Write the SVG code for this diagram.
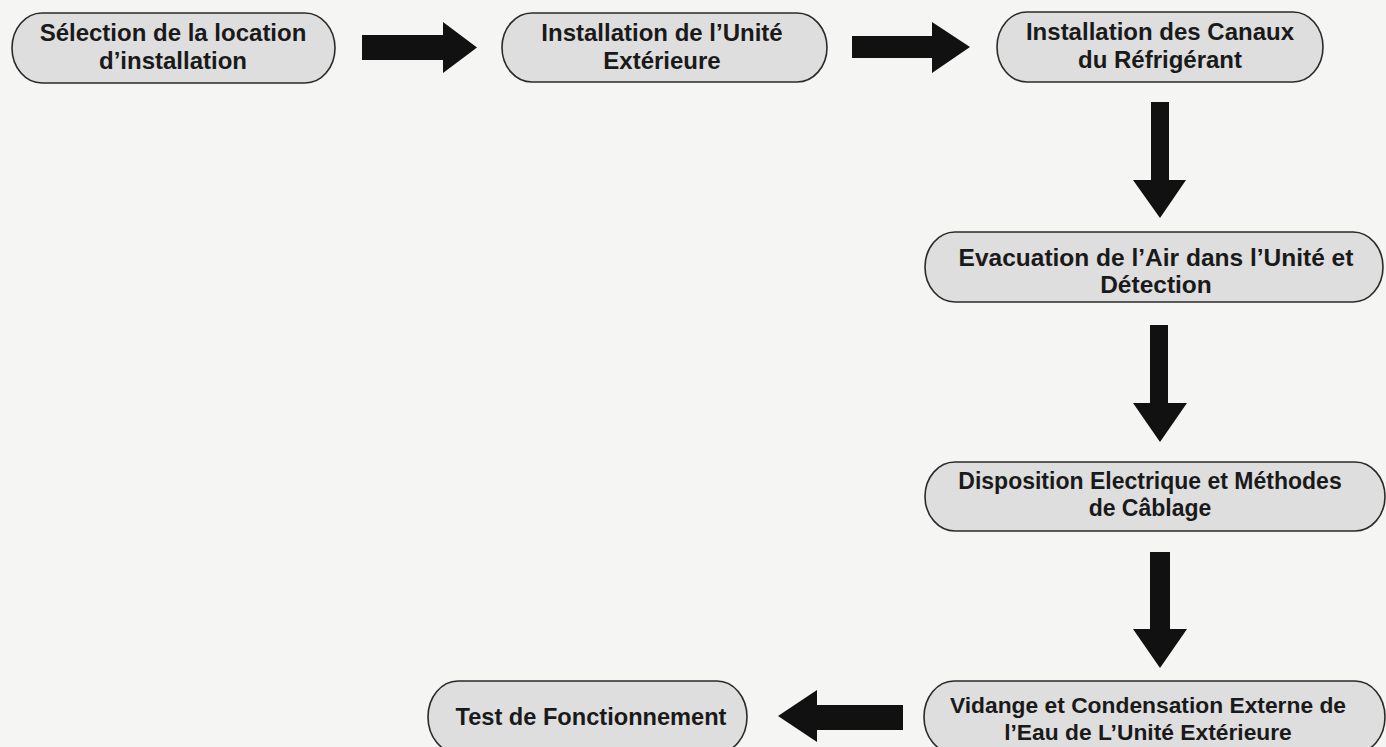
<svg xmlns="http://www.w3.org/2000/svg" width="1386" height="747" viewBox="0 0 1386 747">
<style>
.n{fill:#dedede;stroke:#2a2a2a;stroke-width:1.6}
.t{font-family:"Liberation Sans",Arial,sans-serif;font-weight:bold;font-size:23px;fill:#1a1a1a;text-anchor:middle}
.b{font-size:24px}
.a{fill:#111}
</style>
<rect width="1386" height="747" fill="#f5f5f3"/>
<g id="n1"><rect class="n" x="12" y="13" width="323" height="70" rx="30" ry="35"/>
<text class="t b" x="173" y="41">Sélection de la location</text><text class="t b" x="173" y="69">d’installation</text></g>
<g id="n2"><rect class="n" x="502" y="13" width="325" height="69" rx="30" ry="35"/>
<text class="t b" x="662" y="41">Installation de l’Unité</text><text class="t b" x="662" y="69">Extérieure</text></g>
<g id="n3"><rect class="n" x="997" y="12" width="326" height="70" rx="30" ry="35"/>
<text class="t b" x="1160" y="40">Installation des Canaux</text><text class="t b" x="1160" y="68">du Réfrigérant</text></g>
<g id="n4"><rect class="n" x="925" y="232" width="458" height="70" rx="30" ry="35"/>
<text class="t" x="1156" y="266" style="font-size:24.5px">Evacuation de l’Air dans l’Unité et</text><text class="t" x="1156" y="293" style="font-size:24.5px">Détection</text></g>
<g id="n5"><rect class="n" x="925" y="462" width="460" height="69" rx="30" ry="35"/>
<text class="t" x="1150" y="489">Disposition Electrique et Méthodes</text><text class="t" x="1150" y="516">de Câblage</text></g>
<g id="n6"><rect class="n" x="924" y="681" width="461" height="72" rx="30" ry="36"/>
<text class="t" x="1148" y="713" style="font-size:22.8px">Vidange et Condensation Externe de</text><text class="t" x="1148" y="740" style="font-size:22.8px">l’Eau de L’Unité Extérieure</text></g>
<g id="n7"><rect class="n" x="428" y="681" width="319" height="72" rx="30" ry="36"/>
<text class="t" x="591" y="725" style="font-size:23.6px">Test de Fonctionnement</text></g>
<g id="connectors">
<polygon class="a" points="362,35 443,35 443,22 477,47.5 443,73 443,60 362,60"/>
<polygon class="a" points="852,36 932,36 932,22 970,47 932,73 932,58 852,58"/>
<polygon class="a" points="1151,102 1169,102 1169,180 1186,180 1160,218 1133,180 1151,180"/>
<polygon class="a" points="1150,325 1168,325 1168,403 1187,403 1160,442 1133,403 1150,403"/>
<polygon class="a" points="1150,552 1170,552 1170,629 1187,629 1160,668 1133,629 1150,629"/>
<polygon class="a" points="903,705 817,705 817,690 778,716 817,742 817,730 903,730"/>
</g>
</svg>
